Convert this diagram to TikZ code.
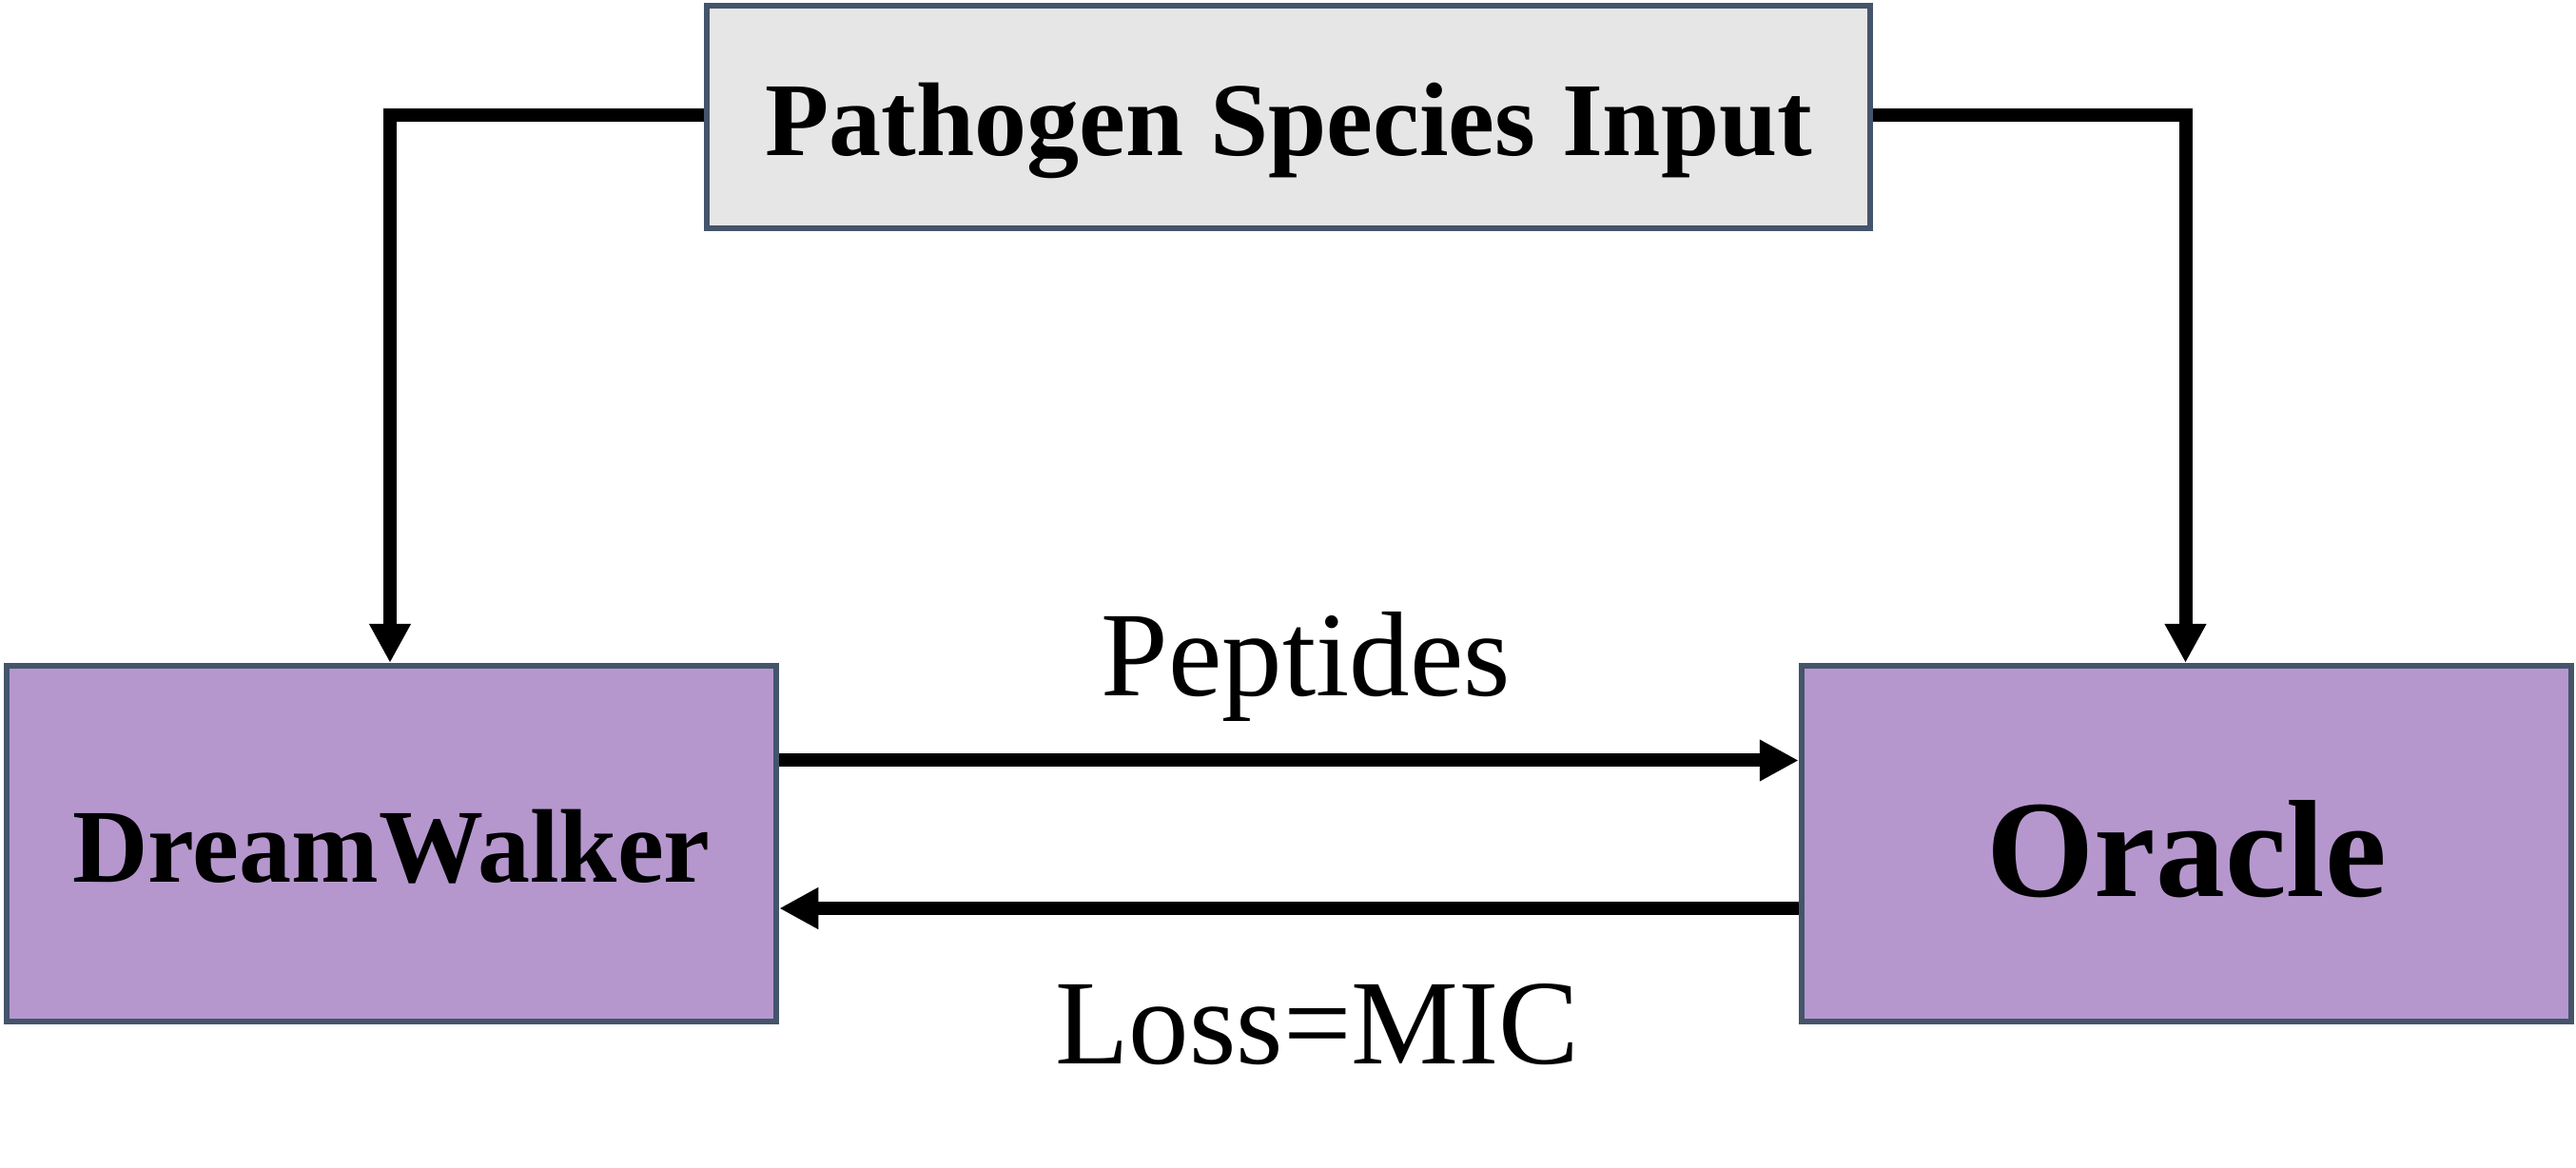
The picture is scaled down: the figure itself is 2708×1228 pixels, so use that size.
\documentclass[tikz,border=0pt]{standalone}
\usepackage{fontspec}
\setmainfont{Liberation Serif}
\usetikzlibrary{arrows.meta}
\definecolor{bordercol}{HTML}{44546A}
\definecolor{purplefill}{HTML}{B597CE}
\definecolor{greyfill}{HTML}{E6E6E6}
\tikzset{
  boxbase/.style={draw=bordercol, line width=1.71pt, rectangle, inner sep=0pt, text depth=0pt, align=center},
  inputbox/.style={boxbase, fill=greyfill, minimum width=12.225cm, minimum height=2.335cm,
    font=\fontsize{31.3pt}{36pt}\selectfont\bfseries, text height=0.805cm},
  modelbox/.style={boxbase, fill=purplefill, minimum width=8.09cm, minimum height=3.74cm},
  conn/.style={line width=3.98pt, draw=black, -{Triangle[width=0.41cm,length=0.41cm]}},
  flowlabel/.style={anchor=base, inner sep=0pt, font=\fontsize{36.1pt}{42pt}\selectfont}
}
\begin{document}
\begin{tikzpicture}[x=0.01cm, y=-0.01cm]
\useasboundingbox (0,0) rectangle (2708,1228);
\node[inputbox] (input) at (1354.75,122.75) {Pathogen Species Input};
\node[modelbox, font=\fontsize{31.3pt}{36pt}\selectfont\bfseries, text height=0.8cm] (dw) at (411.5,887) {DreamWalker};
\node[modelbox, font=\fontsize{41.4pt}{48pt}\selectfont\bfseries, text height=1.1cm] (oracle) at (2298.5,887) {Oracle};
\draw[conn] (input.west |- 0,121) -| (dw.north -| 410,0);
\draw[conn] (input.east |- 0,121) -| (oracle.north -| 2297.5,0);
\draw[conn] (dw.east |- 0,799.5) -- (oracle.west |- 0,799.5);
\draw[conn] (oracle.west |- 0,955) -- (dw.east |- 0,955);
\node[flowlabel] (peptides) at (1373,732) {Peptides};
\node[flowlabel] (loss) at (1385,1118) {Loss=MIC};
\end{tikzpicture}
\end{document}
